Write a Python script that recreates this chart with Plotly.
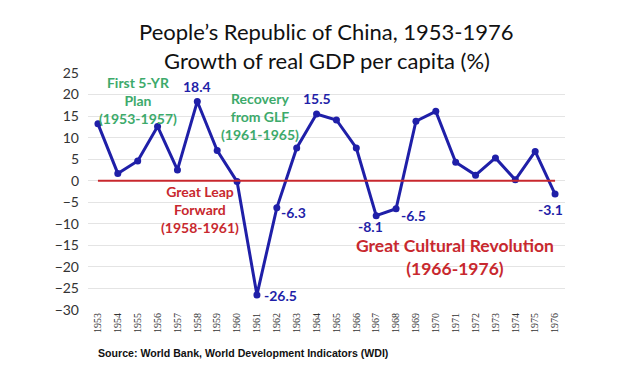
import plotly.graph_objects as go

years = list(range(1953, 1977))
growth = [13.2, 1.7, 4.6, 12.6, 2.5, 18.4, 7.0, -0.2, -26.5, -6.3, 7.6, 15.5,
          14.1, 7.6, -8.1, -6.5, 13.8, 16.1, 4.3, 1.3, 5.3, 0.2, 6.8, -3.1]
y_ticks = [25, 20, 15, 10, 5, 0, -5, -10, -15, -20, -25, -30]

BLUE = "#1f1fa8"
GREEN = "#3daa6b"
RED = "#c8282e"

# page has an 8px body margin, so the figure is drawn 8px in from the top-left
OFF = 8
W, H = 620 - OFF, 372 - OFF
L, R, T, B = 88 - OFF, 55, 73 - OFF, 62
PH = H - T - B
PW = W - L - R

fig = go.Figure()
fig.add_trace(go.Scatter(x=years, y=growth, mode="lines+markers",
                         line=dict(color=BLUE, width=3),
                         marker=dict(color=BLUE, size=7), showlegend=False))

fig.add_shape(type="line", xref="x", yref="y", x0=1953, x1=1976, y0=0, y1=0,
              line=dict(color=RED, width=2))

font_main = "Lato, Carlito, Calibri, sans-serif"

def ann(x, y, text, color, size=14, xshift=0, yshift=0, xanchor="center"):
    fig.add_annotation(x=x, y=y, xref="x", yref="y", text=text, showarrow=False,
                       font=dict(family=font_main, size=size, color=color),
                       xanchor=xanchor, xshift=xshift, yshift=yshift)

# value labels
ann(1958, 18.4, "<b>18.4</b>", BLUE, yshift=15)
ann(1964, 15.5, "<b>15.5</b>", BLUE, yshift=15)
ann(1962, -6.3, "<b>-6.3</b>", BLUE, xanchor="left", xshift=2, yshift=-5)
ann(1961, -26.5, "<b>-26.5</b>", BLUE, xanchor="left", xshift=5, yshift=-1)
ann(1967, -8.1, "<b>-8.1</b>", BLUE, xshift=-6, yshift=-11)
ann(1968, -6.5, "<b>-6.5</b>", BLUE, xanchor="left", xshift=3, yshift=-7)
ann(1976, -3.1, "<b>-3.1</b>", BLUE, xshift=-5, yshift=-15)

# period labels
ann(1955.0, 18.7, "<b>First 5-YR<br>Plan<br>(1953-1957)</b>", GREEN)
ann(1961.15, 14.85, "<b>Recovery<br>from GLF<br>(1961-1965)</b>", GREEN)
ann(1958.14, -6.7, "<b>Great Leap<br>Forward<br>(1958-1961)</b>", RED)
ann(1970.97, -17.6, "<b>Great Cultural Revolution<br>(1966-1976)</b>", RED, size=17.5)

def py(pix):
    return (H - B - (pix - OFF)) / PH

def px(pix):
    return ((pix - OFF) - L) / PW

# title lines
fig.add_annotation(x=0.5, y=py(32), xref="paper", yref="paper",
                   text="People’s Republic of China, 1953-1976", showarrow=False,
                   xanchor="center", yanchor="middle",
                   font=dict(family=font_main, size=22, color="#111111"))
fig.add_annotation(x=0.5, y=py(60), xref="paper", yref="paper",
                   text="Growth of real GDP per capita (%)", showarrow=False,
                   xanchor="center", yanchor="middle",
                   font=dict(family=font_main, size=22, color="#111111"))

fig.add_annotation(x=px(96), y=py(353), xref="paper", yref="paper",
                   text="<b>Source: World Bank, World Development Indicators (WDI)</b>",
                   showarrow=False, xanchor="left", yanchor="middle",
                   font=dict(family="Liberation Sans, Arial, sans-serif", size=10.6, color="#111111"))

fig.update_layout(
    width=W, height=H,
    margin=dict(l=L, r=R, t=T, b=B, autoexpand=False),
    paper_bgcolor="white", plot_bgcolor="white",
    xaxis=dict(range=[1952.5, 1976.5], tickmode="array", tickvals=years,
               ticktext=[str(y) for y in years], tickangle=-90, automargin=False,
               showgrid=False, zeroline=False, showline=False, ticks="",
               tickfont=dict(family="Liberation Serif, serif", size=10, color="#333333")),
    yaxis=dict(range=[-30, 25], tickmode="array", tickvals=y_ticks, automargin=False,
               showgrid=True, gridcolor="#e4e4e4", gridwidth=1, zeroline=False,
               showline=False, ticks="", ticklabelstandoff=8,
               tickfont=dict(family=font_main, size=14, color="#333333")),
)

fig.write_html("out.html")
